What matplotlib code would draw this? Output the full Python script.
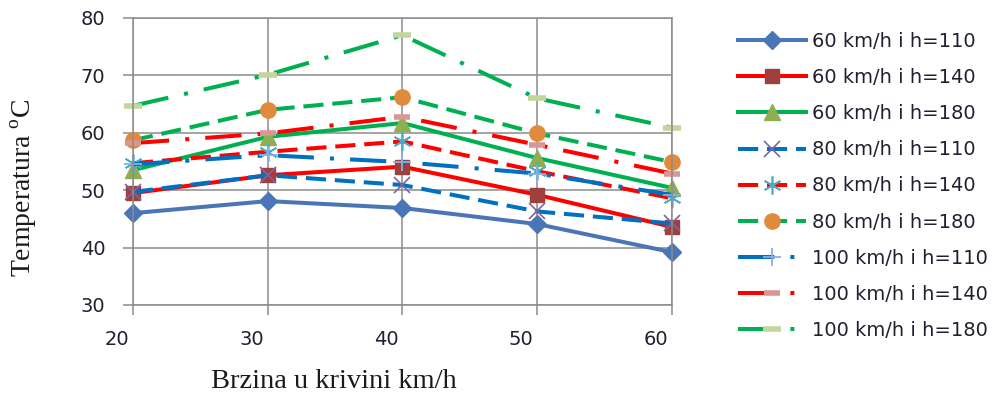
import matplotlib.pyplot as plt
import matplotlib.transforms as mtransforms

# Brzina u krivini (km/h)
speeds = [20, 30, 40, 50, 60]

# Temperatura po seriji
t60_110 = [46.0, 48.1, 46.9, 44.1, 39.2]
t60_140 = [49.5, 52.6, 54.1, 49.2, 43.6]
t60_180 = [53.5, 59.3, 61.7, 55.6, 50.4]
t80_110 = [49.7, 52.6, 50.9, 46.3, 44.2]
t80_140 = [54.7, 56.7, 58.5, 53.3, 48.6]
t80_180 = [58.7, 64.0, 66.2, 59.9, 54.9]
t100_110 = [54.5, 56.1, 54.9, 52.9, 49.2]
t100_140 = [58.2, 59.9, 62.8, 57.9, 52.9]
t100_180 = [64.7, 70.1, 77.0, 66.0, 60.9]

labels = ['60 km/h i h=110', '60 km/h i h=140', '60 km/h i h=180',
          '80 km/h i h=110', '80 km/h i h=140', '80 km/h i h=180',
          '100 km/h i h=110', '100 km/h i h=140', '100 km/h i h=180']
y_ticks = [30, 40, 50, 60, 70, 80]


def generate_chart():
    plt.rcParams['mathtext.fontset'] = 'custom'
    plt.rcParams['mathtext.rm'] = 'Liberation Serif'

    fig = plt.figure(figsize=(9.95, 3.94), dpi=100)
    ax = fig.add_axes([133 / 995, 1 - 305 / 394, (672 - 133) / 995, (305 - 18) / 394])

    dash = (5, 2.2)
    dashdot = (9, 4, 1, 4)
    lw = 2.9

    # (values, line colour, linestyle, marker, marker size, face, edge, mew)
    styles = [
        (t60_110, '#4a76b8', '-', 'D', 9, '#4a76b8', '#4a76b8', 1),
        (t60_140, '#ff0000', '-', 's', 10, '#a0403e', '#a0403e', 1),
        (t60_180, '#00b050', '-', '^', 11, '#8fae50', '#8fae50', 1),
        (t80_110, '#0070c0', (0, dash), 'x', 11, 'none', '#8064a2', 1.2),
        (t80_140, '#ff0000', (0, dash), (6, 2, 0), 13, 'none', '#4bacc6', 1.2),
        (t80_180, '#00b050', (0, dash), 'o', 11, '#e08a3c', '#e08a3c', 1),
        (t100_110, '#0070c0', (0, dashdot), '+', 13, 'none', '#8eaee0', 1.3),
        (t100_140, '#ff0000', (0, dashdot), '_', 12, 'none', '#d99694', 4),
        (t100_180, '#00b050', (0, dashdot), '_', 13, 'none', '#c3d69b', 4),
    ]

    for (vals, color, ls, mk, ms, mfc, mec, mew), lab in zip(styles, labels):
        ax.plot(speeds, vals, color=color, linestyle=ls, linewidth=lw,
                marker=mk, markersize=ms, markerfacecolor=mfc,
                markeredgecolor=mec, markeredgewidth=mew, label=lab,
                clip_on=False)

    ax.set_xlim(20, 60)
    ax.set_ylim(30, 80)
    ax.set_xticks(speeds)
    ax.set_yticks(y_ticks)

    grid_col = '#8c8c8c'
    ax.grid(True, color=grid_col, linewidth=1.1)
    ax.set_axisbelow(True)
    for sp in ax.spines.values():
        sp.set_color(grid_col)
        sp.set_linewidth(1.1)
    ax.tick_params(axis='both', direction='out', length=7, width=1.1,
                   color=grid_col, labelsize=14, labelcolor='#202030', pad=11)
    ax.tick_params(axis='y', pad=13)

    # x labels sit slightly left of their gridlines
    offset = mtransforms.ScaledTranslation(-16 / 100, 0, fig.dpi_scale_trans)
    for lbl in ax.get_xticklabels():
        lbl.set_transform(lbl.get_transform() + offset)

    fig.text(334 / 995, 1 - 381 / 394, 'Brzina u krivini km/h', family='Liberation Serif',
             fontsize=20.5, ha='center', va='center', color='#1a1a1a')
    fig.text(24 / 995, 1 - 188 / 394, 'Temperatura $^{\\mathrm{o}}$C', family='Liberation Serif',
             fontsize=20, ha='center', va='center', rotation=90, color='#1a1a1a')

    leg = ax.legend(loc='upper left', bbox_to_anchor=(738 / 995, 1 - 32 / 394),
                    bbox_transform=fig.transFigure, frameon=False, fontsize=14,
                    handlelength=3.5, handletextpad=0.3, labelspacing=0.88,
                    numpoints=1, borderaxespad=0, borderpad=0)
    for txt in leg.get_texts():
        txt.set_color('#202030')

    plt.savefig('out.png', dpi=100)
    plt.close()


if __name__ == "__main__":
    generate_chart()
